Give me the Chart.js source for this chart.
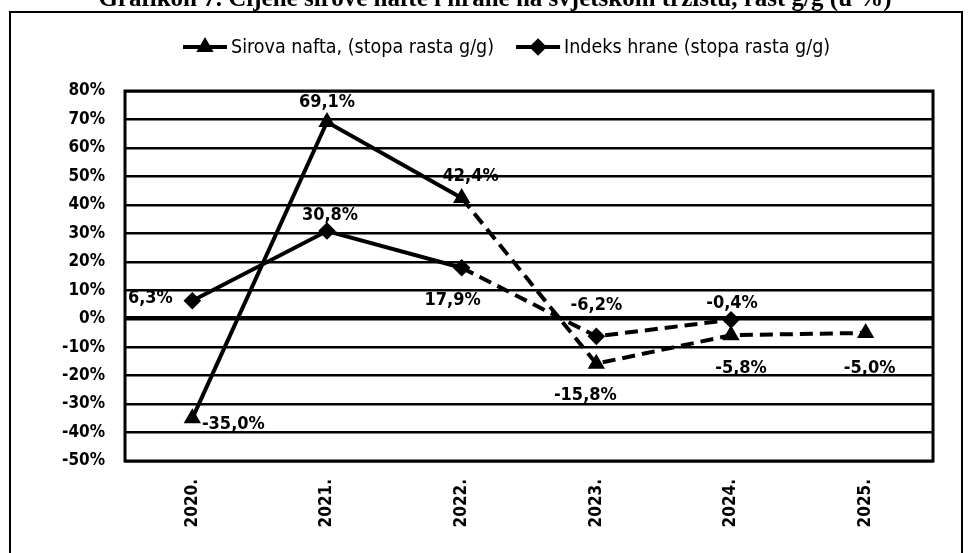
<!DOCTYPE html>
<html lang="hr">
<head>
    <meta charset="UTF-8">
    <title>Grafikon 7. Cijene sirove nafte i hrane</title>
    <script src="https://cdn.jsdelivr.net/npm/chart.js"></script>
    <style>
        body { margin: 0; background: #ffffff; }
        #wrap { width: 968px; height: 553px; }
    </style>
</head>
<body>
    <div id="wrap"><canvas id="grafikon" width="968" height="553"></canvas></div>

    <script>
        // Podaci
        const godine = ['2020.', '2021.', '2022.', '2023.', '2024.', '2025.'];
        const nafta = [-35.0, 69.1, 42.4, -15.8, -5.8, -5.0];
        const hrana = [6.3, 30.8, 17.9, -6.2, -0.4, null];
        const yTicks = { min: -50, max: 80, step: 10 };
        const naslov = 'Grafikon 7. Cijene sirove nafte i hrane na svjetskom tržištu, rast g/g (u %)';

        // pomaci oznaka vrijednosti (dx, dy) od tocke
        const pomakNafta = [[41, 6], [0, -20], [9, -22], [-11, 32], [10, 33], [4, 35]];
        const pomakHrana = [[-42, -2], [3, -16], [-9, 33], [0, -31], [1, -17], [0, 0]];

        const FONT = "'Liberation Sans Narrow', 'DejaVu Sans Condensed', 'Liberation Sans', sans-serif";
        const fmt = v => v.toFixed(1).replace('.', ',') + '%';
        const crtkano = c => c.p0DataIndex >= 2 ? [13, 7] : undefined;

        const okvir = {
            id: 'okvir',
            afterDraw(chart) {
                const { ctx, chartArea: a } = chart;
                ctx.save();
                // rub podrucja crtanja
                ctx.strokeStyle = '#000';
                ctx.lineWidth = 3;
                ctx.strokeRect(a.left, a.top, a.right - a.left, a.bottom - a.top);

                // vanjski okvir
                ctx.lineWidth = 2;
                ctx.beginPath();
                ctx.moveTo(10, 560); ctx.lineTo(10, 12); ctx.lineTo(962, 12); ctx.lineTo(962, 560);
                ctx.stroke();

                // naslov (odrezan na vrhu)
                ctx.fillStyle = '#000';
                ctx.font = "bold 25px 'Liberation Serif', serif";
                ctx.textAlign = 'center';
                ctx.textBaseline = 'alphabetic';
                ctx.fillText(naslov, 495, 6);

                // legenda
                const items = chart.data.datasets.map((d, i) => ({ d, meta: chart.getDatasetMeta(i) }));
                ctx.font = '19.5px ' + FONT;
                ctx.textBaseline = 'middle';
                ctx.textAlign = 'left';
                const ly = 47, uzorak = 44, razmak = 4, izmedju = 22;
                const sirine = items.map(it => uzorak + razmak + ctx.measureText(it.d.label).width);
                let x = 183;
                items.forEach((it, i) => {
                    ctx.lineWidth = 4;
                    ctx.beginPath();
                    ctx.moveTo(x, ly); ctx.lineTo(x + uzorak, ly);
                    ctx.stroke();
                    Chart.helpers.drawPoint(ctx, {
                        pointStyle: it.d.pointStyle, radius: 6, rotation: 0, borderWidth: 1
                    }, x + uzorak / 2, ly);
                    ctx.fillText(it.d.label, x + uzorak + razmak, ly + 1);
                    x += sirine[i] + izmedju;
                });

                // oznake vrijednosti
                ctx.font = 'bold 18px ' + FONT;
                ctx.textAlign = 'center';
                [[0, pomakNafta], [1, pomakHrana]].forEach(([di, pomak]) => {
                    const meta = chart.getDatasetMeta(di);
                    const vals = chart.data.datasets[di].data;
                    meta.data.forEach((pt, i) => {
                        if (vals[i] === null) return;
                        ctx.fillText(fmt(vals[i]), pt.x + pomak[i][0], pt.y + pomak[i][1]);
                    });
                });
                ctx.restore();
            }
        };

        new Chart(document.getElementById('grafikon'), {
            type: 'line',
            data: {
                labels: godine,
                datasets: [
                    {
                        label: 'Sirova nafta, (stopa rasta g/g)',
                        data: nafta,
                        pointStyle: 'triangle',
                        segment: { borderDash: crtkano }
                    },
                    {
                        label: 'Indeks hrane (stopa rasta g/g)',
                        data: hrana,
                        pointStyle: 'rectRot',
                        segment: { borderDash: crtkano }
                    }
                ].map(d => Object.assign({
                    borderColor: '#000',
                    backgroundColor: '#000',
                    pointBackgroundColor: '#000',
                    pointBorderColor: '#000',
                    borderWidth: 4,
                    pointRadius: 6,
                    tension: 0
                }, d))
            },
            options: {
                responsive: false,
                animation: false,
                layout: { padding: { top: 91, right: 35, left: 0, bottom: 0 } },
                plugins: { legend: { display: false }, tooltip: { enabled: false } },
                scales: {
                    x: {
                        offset: true,
                        grid: { display: false },
                        border: { display: false },
                        ticks: {
                            color: '#000', padding: 10,
                            minRotation: 90, maxRotation: 90,
                            font: { family: FONT, size: 17, weight: 'bold' }
                        },
                        afterFit: s => { s.height = 553 - 461; }
                    },
                    y: {
                        min: yTicks.min, max: yTicks.max,
                        grid: {
                            color: '#000',
                            lineWidth: c => c.tick && c.tick.value === 0 ? 4.5 : 2.5,
                            drawTicks: false
                        },
                        border: { display: false },
                        ticks: {
                            stepSize: yTicks.step, color: '#000', padding: 20,
                            font: { family: FONT, size: 17, weight: 'bold' },
                            callback: v => v + '%'
                        },
                        afterFit: s => { s.width = 125; }
                    }
                }
            },
            plugins: [okvir]
        });
    </script>
</body>
</html>
